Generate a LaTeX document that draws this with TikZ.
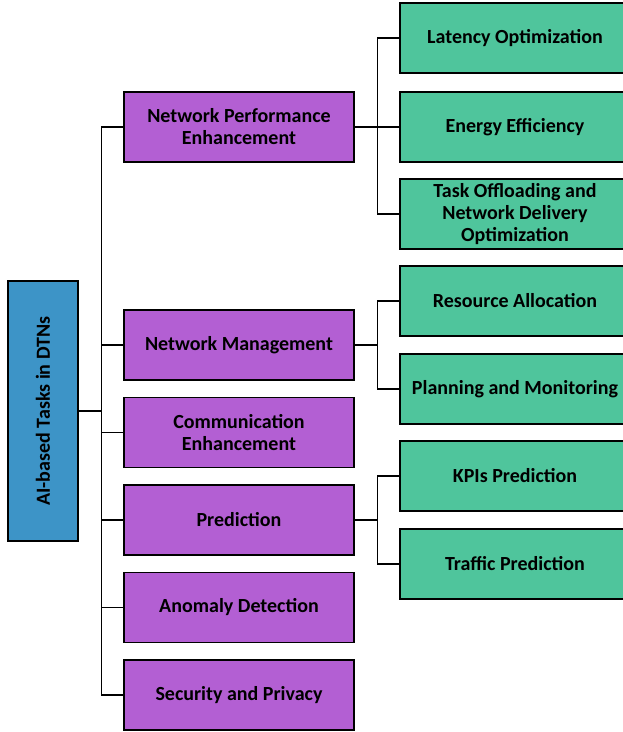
\documentclass[tikz,border=0pt]{standalone}
\usepackage{fontspec}
\setmainfont{Carlito}
\definecolor{rootblue}{HTML}{3D94C7}
\definecolor{taskpurple}{HTML}{B35FD3}
\definecolor{subgreen}{HTML}{4FC59C}
\tikzset{
  box/.style={draw=black, line width=1.6pt, minimum height=70pt, align=center,
    font=\fontsize{20}{22}\selectfont\bfseries, inner sep=2pt},
  task/.style={box, fill=taskpurple, minimum width=230pt},
  sub/.style={box, fill=subgreen, minimum width=230pt},
  link/.style={line width=1.3pt}
}
\begin{document}
\begin{tikzpicture}[x=1pt,y=-1pt]
\useasboundingbox (0,0) rectangle (623,732);
\clip (0,0) rectangle (623,732);
% root
\node[box, fill=rootblue, minimum width=70pt, minimum height=260pt] (root) at (43,411) {};
\node[rotate=90, font=\fontsize{20}{22}\selectfont\bfseries] (rootlabel) at (root.center) {AI-based Tasks in DTNs};
% tasks
\node[task] (npe) at (239,127) {Network Performance\\Enhancement};
\node[task] (nm) at (239,345) {Network Management};
\node[task] (ce) at (239,432.5) {Communication\\Enhancement};
\node[task] (pred) at (239,520) {Prediction};
\node[task] (ad) at (239,607.5) {Anomaly Detection};
\node[task] (sp) at (239,695) {Security and Privacy};
% sub tasks
\node[sub] (lat) at (515,38) {Latency Optimization};
\node[sub] (ee) at (515,127) {Energy Efficiency};
\node[sub] (tond) at (515,214) {Task Offloading and\\Network Delivery\\Optimization};
\node[sub] (ra) at (515,301) {Resource Allocation};
\node[sub] (pm) at (515,389) {Planning and Monitoring};
\node[sub] (kpi) at (515,476) {KPIs Prediction};
\node[sub] (tp) at (515,564) {Traffic Prediction};
% connectors
\foreach \t in {npe,nm,ce,pred,ad,sp}
  \draw[link] (root.east) -- ++(23,0) |- (\t.west);
\foreach \s in {lat,ee,tond}
  \draw[link] (npe.east) -- ++(23,0) |- (\s.west);
\foreach \s in {ra,pm}
  \draw[link] (nm.east) -- ++(23,0) |- (\s.west);
\foreach \s in {kpi,tp}
  \draw[link] (pred.east) -- ++(23,0) |- (\s.west);
\end{tikzpicture}
\end{document}
